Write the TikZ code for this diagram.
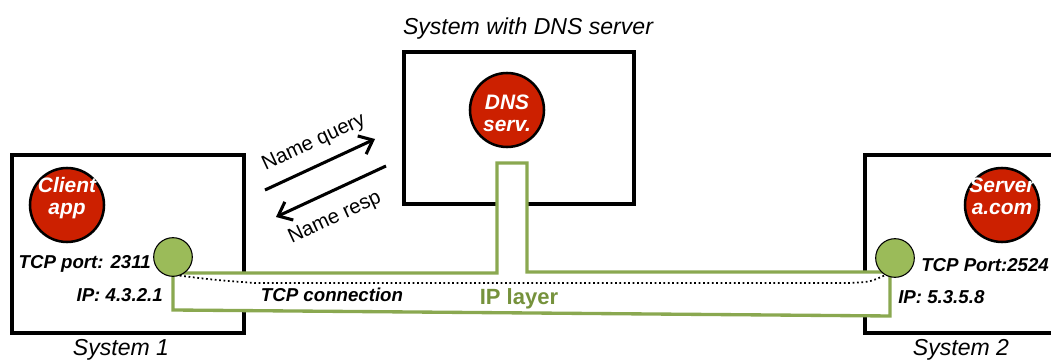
\documentclass[tikz,border=0pt]{standalone}
\usepackage{fontspec}
\setmainfont{Liberation Sans}
\usetikzlibrary{arrows.meta}

\definecolor{appred}{RGB}{204,32,0}
\definecolor{ipgreen}{RGB}{138,168,80}
\definecolor{portgreen}{RGB}{155,187,89}
\definecolor{iptext}{RGB}{118,146,60}

\tikzset{
  sysbox/.style={draw=black, line width=2.8pt, fill=white, inner sep=0pt, anchor=north west},
  appcircle/.style={circle, draw=black, line width=1.9pt, fill=appred, inner sep=0pt, minimum size=55.5pt},
  apptext/.style={text=white, align=center, inner sep=0pt,
    font=\fontsize{15.7pt}{16.8pt}\selectfont\bfseries\itshape},
  portcircle/.style={circle, draw=black, line width=0.8pt, fill=portgreen, inner sep=0pt, minimum size=29pt},
  iplayer/.style={draw=ipgreen, line width=2.5pt, fill=white, line join=miter},
  tcpline/.style={draw=black, line width=1.3pt, dotted},
  syslabel/.style={inner sep=0pt, anchor=base, font=\fontsize{17.3pt}{20pt}\selectfont\itshape},
  addrlabel/.style={inner sep=0pt, font=\fontsize{14pt}{16pt}\selectfont\bfseries\itshape},
  msgarrow/.style={draw=black, line width=2.3pt, -{Straight Barb[length=9pt,width=15pt,line width=2.3pt]}},
  msglabel/.style={inner sep=0pt, rotate=25, font=\fontsize{15.3pt}{17pt}\selectfont}
}

\begin{document}
\begin{tikzpicture}[x=0.75pt, y=-0.75pt]
\useasboundingbox (0,0) rectangle (1051,363);
\clip (0,0) rectangle (1051,363);

% the three systems
\node[sysbox, minimum width=174pt, minimum height=133.5pt] (sys1) at (10,153) {};
\node[sysbox, minimum width=172.5pt, minimum height=114pt] (dnsbox) at (402,50) {};
\node[sysbox, minimum width=174.75pt, minimum height=133.5pt] (sys2) at (863,153) {};

\node[syslabel] (sys1lbl) at (121,356) {System 1};
\node[syslabel] (dnslbl) at (528,35) {System with DNS server};
\node[syslabel] (sys2lbl) at (961,356) {System 2};

% applications
\node[appcircle] (client) at (67,205) {};
\node[apptext] (clienttxt) at (67,198) {Client\\app};
\node[appcircle] (dns) at (507,110) {};
\node[apptext] (dnstxt) at (507,113) {DNS\\serv.};
\node[appcircle] (server) at (1002,205) {};
\node[apptext] (servertxt) at (1002,196.5) {Server\\a.com};

% IP layer band joining the three systems
\path[iplayer] (173,273) -- (497,273) -- (497,163) -- (527,163) -- (527,272)
  -- (890,272) -- (890,316) -- (173,310) -- cycle;

% TCP ports
\node[portcircle] (port1) at (173,257) {};
\node[portcircle] (port2) at (895,258) {};

% TCP connection between the two ports
\coordinate (tcpa) at (255,283);
\coordinate (tcpb) at (850,283);
\draw[tcpline] (port1.-70) .. controls (215,280) .. (tcpa) -- (tcpb)
  .. controls (870,282) .. (port2.-120);

\node[addrlabel, anchor=base] (tcplbl) at (332,302) {TCP connection};
\node[inner sep=0pt, anchor=base, text=iptext,
  font=\fontsize{16.5pt}{18pt}\selectfont\bfseries] (iplbl) at (519,305) {IP layer};

% addresses
\node[addrlabel, anchor=base east] (port1lbl) at (151,269) {TCP port: 2311};
\node[addrlabel, anchor=base east] (ip1lbl) at (163,302) {IP: 4.3.2.1};
\node[addrlabel, anchor=base west] (port2lbl) at (921,272) {TCP Port:2524};
\node[addrlabel, anchor=base west] (ip2lbl) at (898,304) {IP: 5.3.5.8};

% name lookup messages
\coordinate (q1) at (265,190);
\coordinate (q2) at (375,139);
\coordinate (r1) at (386,166);
\coordinate (r2) at (276,217);
\draw[msgarrow] (q1) -- (q2);
\draw[msgarrow] (r1) -- (r2);
\node[msglabel] (querylbl) at (314,143) {Name query};
\node[msglabel] (resplbl) at (335,218) {Name resp};
\end{tikzpicture}
\end{document}
